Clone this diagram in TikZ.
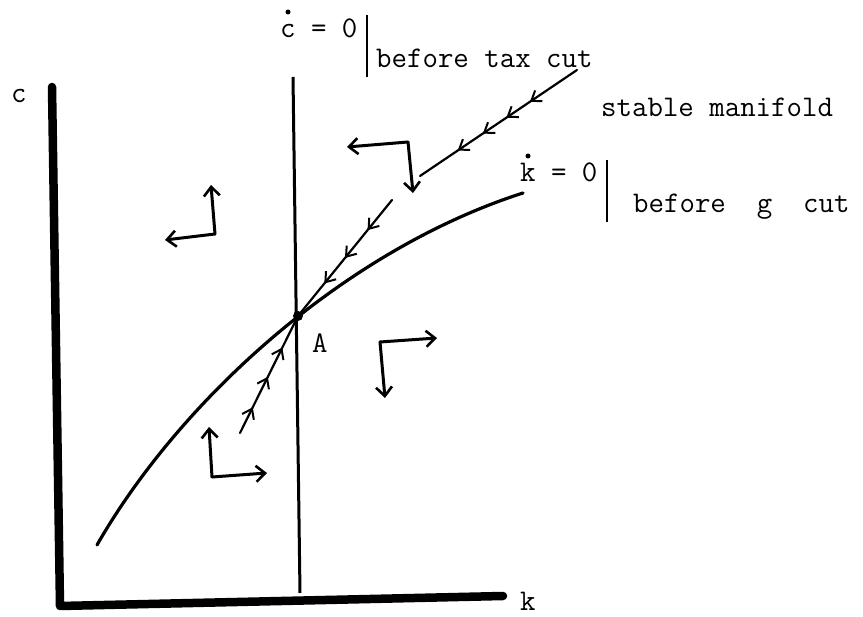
\documentclass[tikz,border=0pt]{standalone}
\usepackage{fontspec}
\usetikzlibrary{arrows.meta,decorations.markings}
\tikzset{fh/.tip={Straight Barb[length=9pt,width=13pt,line width=2pt]}}
\begin{document}
\begin{tikzpicture}[x=1pt,y=-1pt,
  lbl/.style={anchor=base west,inner sep=0pt,font=\ttfamily\fontsize{30}{34}\selectfont},
  axisline/.style={line width=8.5pt,line cap=round,line join=round},
  curveline/.style={line width=3.2pt,line cap=round},
  manif/.style={line width=2.2pt,line cap=round},
  bar/.style={line width=1.5pt},
  dirarrow/.style={line width=3pt,line cap=round,line join=round,-{Straight Barb[length=9pt,width=16pt,line width=2.6pt]}}
]
\useasboundingbox (0,0) rectangle (863,617);

% axes
\coordinate (ytop) at (52,87);
\coordinate (origin) at (60,606);
\coordinate (xend) at (503,596);
\draw[axisline] (ytop) -- (origin) -- (xend);
\node[lbl] (clab) at (11,103) {c};
\node[lbl] (klab) at (520,610) {k};

% c-dot = 0 locus
\coordinate (vtop) at (293,77);
\coordinate (vbot) at (300,593);
\draw[line width=3pt] (vtop) -- (vbot);
\node[lbl] (cdot) at (280,38) {c = 0};
\fill (288,12) circle (2.5);
\coordinate (b1t) at (367,15);
\coordinate (b1b) at (367,77);
\draw[bar] (b1t) -- (b1b);
\node[lbl] (taxcut) at (376,68) {before tax cut};

% k-dot = 0 locus
\coordinate (k0) at (97,545);
\coordinate (k1) at (523,193);
\draw[curveline] (k0) .. controls (180,400) and (345,250) .. (k1);
\node[lbl] (kdot) at (520,182) {k = 0};
\fill (528,156) circle (2.5);
\coordinate (b2t) at (607,160);
\coordinate (b2b) at (607,222);
\draw[bar] (b2t) -- (b2b);
\node[lbl] (gcut) at (633,213) {before\ \ g\ \ cut};

% steady state
\coordinate (A) at (298,316);
\fill (A) circle (5);
\node[lbl] (Alab) at (312,353) {A};

% stable manifold
\node[lbl] (smlab) at (601,117) {stable manifold};
\coordinate (s1a) at (577,70);
\coordinate (s1b) at (420,176);
\coordinate (s2a) at (392,200);
\coordinate (s3a) at (240,433);
\draw[manif,postaction={decorate},decoration={markings,
  mark=at position 0.30 with {\arrow{fh}},
  mark=at position 0.45 with {\arrow{fh}},
  mark=at position 0.60 with {\arrow{fh}},
  mark=at position 0.76 with {\arrow{fh}}}] (s1a) -- (s1b);
\draw[manif,postaction={decorate},decoration={markings,
  mark=at position 0.26 with {\arrow{fh}},
  mark=at position 0.50 with {\arrow{fh}},
  mark=at position 0.72 with {\arrow{fh}}}] (s2a) -- (A);
\draw[manif,postaction={decorate},decoration={markings,
  mark=at position 0.22 with {\arrow{fh}},
  mark=at position 0.48 with {\arrow{fh}},
  mark=at position 0.73 with {\arrow{fh}}}] (s3a) -- (A);

% direction arrows
\coordinate (d1) at (215,234);
\coordinate (d1u) at (211,185);
\coordinate (d1l) at (165,240);
\draw[dirarrow] (d1) -- (d1u);
\draw[dirarrow] (d1) -- (d1l);

\coordinate (d2) at (408,142);
\coordinate (d2l) at (347,147);
\coordinate (d2d) at (413,193);
\draw[dirarrow] (d2) -- (d2l);
\draw[dirarrow] (d2) -- (d2d);

\coordinate (d3) at (380,342);
\coordinate (d3r) at (437,338);
\coordinate (d3d) at (385,398);
\draw[dirarrow] (d3) -- (d3r);
\draw[dirarrow] (d3) -- (d3d);

\coordinate (d4) at (212,477);
\coordinate (d4u) at (209,427);
\coordinate (d4r) at (267,473);
\draw[dirarrow] (d4) -- (d4u);
\draw[dirarrow] (d4) -- (d4r);
\end{tikzpicture}
\end{document}
